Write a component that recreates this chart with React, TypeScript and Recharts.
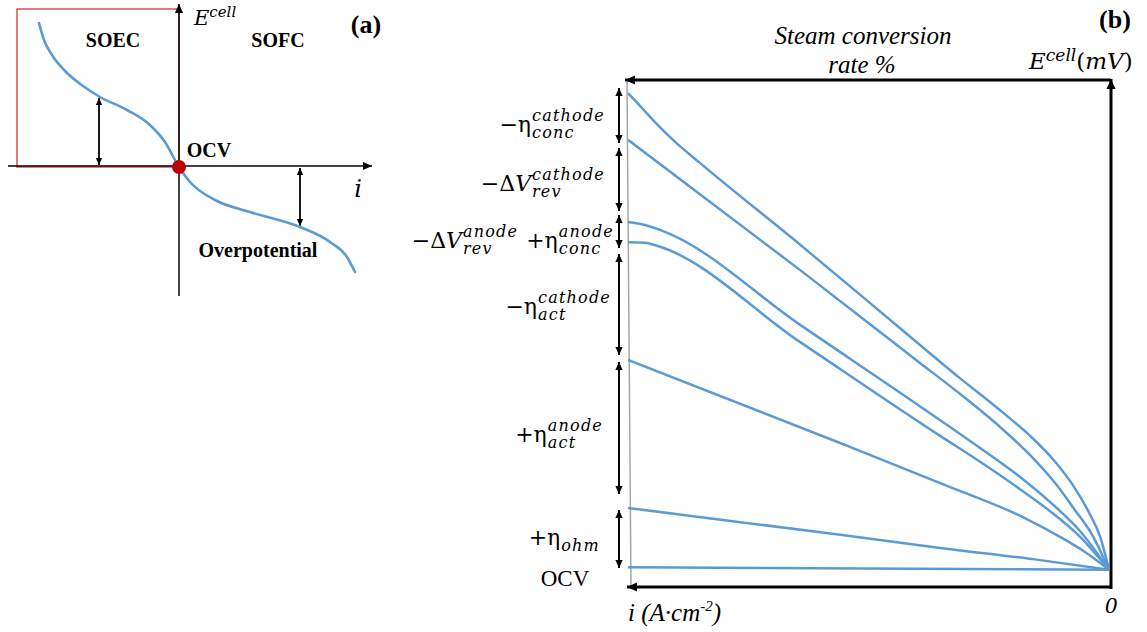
import { LineChart, Line, XAxis, YAxis, ReferenceDot } from 'recharts'
import type { ReactNode } from 'react'

const SERIF = '"Liberation Serif", "Times New Roman", serif'
const MATH = '"DejaVu Serif", serif'
const BLUE = '#5b9bd5'

// panel (a): generic polarisation curve, i vs E (arbitrary units)
const aCurrent = [-14.0, -13.5, -12.7, -11.4, -9.6, -7.9, -5.2, -2.9, -1.4, 0, 1.1, 3.6, 7.1, 12.1, 15.1, 16.8, 17.6]
const aVoltage = [14.4, 12.7, 11.2, 9.6, 8.1, 7.0, 5.7, 4.2, 2.5, 0, -1.5, -3.3, -4.5, -6.0, -7.5, -9.0, -10.5]

// panel (b): x = current density (% of max, 0 at right), y = E cell (% of scale)
const concCathodeX = [100, 97.5, 94.4, 90.2, 85.0, 64.2, 43.5, 31.0, 22.7, 16.4, 11.2, 7.1, 4.0, 1.9, 0]
const concCathodeY = [97.4, 94.9, 91.7, 87.8, 83.6, 67.5, 51.1, 41.2, 34.9, 29.8, 24.7, 19.5, 14.4, 10.1, 3.4]
const revCathodeX = [100, 64.2, 39.3, 31.0, 22.7, 16.4, 11.2, 7.1, 3.5, 0]
const revCathodeY = [88.2, 62.5, 44.2, 38.1, 31.6, 26.0, 20.5, 15.2, 10.3, 3.4]
const revAnodeX = [100, 96.5, 92.7, 64.2, 35.1, 26.8, 18.5, 12.3, 6.0, 0]
const revAnodeY = [72.0, 71.4, 70.2, 51.7, 32.9, 27.4, 21.7, 16.8, 11.0, 3.4]
const concAnodeX = [100, 96.5, 94.0, 64.2, 35.1, 26.8, 18.5, 12.3, 6.0, 0]
const concAnodeY = [68.0, 67.9, 67.3, 48.3, 29.8, 24.7, 19.3, 15.0, 9.9, 3.4]
const actAnodeX = [100, 55.9, 35.1, 17.5, 10.2, 5.0, 0]
const actAnodeY = [44.8, 28.4, 20.5, 13.6, 9.9, 6.9, 3.4]
const ohmX = [100, 55.9, 35.1, 14.3, 0]
const ohmY = [15.6, 10.3, 7.7, 5.3, 3.4]
const ocvX = [100, 0]
const ocvY = [3.9, 3.4]

const zip = (xs: number[], ys: number[]) => xs.map((x, k) => ({ x, y: ys[k] }))

const aData = aCurrent.map((i, k) => ({ i, e: aVoltage[k] }))
const curves = [
  zip(concCathodeX, concCathodeY),
  zip(revCathodeX, revCathodeY),
  zip(revAnodeX, revAnodeY),
  zip(concAnodeX, concAnodeY),
  zip(actAnodeX, actAnodeY),
  zip(ohmX, ohmY),
  zip(ocvX, ocvY),
]

// double arrows beside panel (b): [top, bottom]
const bSpans = [[88, 143], [148, 211], [215, 248], [254, 355], [362, 494], [510, 568]]

interface ArrowProps { x1: number; y1: number; x2: number; y2: number; w?: number; head?: number; both?: boolean; color?: string }
function Arrow({ x1, y1, x2, y2, w = 2, head = 8, both = false, color = '#000' }: ArrowProps) {
  const len = Math.hypot(x2 - x1, y2 - y1)
  const ux = (x2 - x1) / len, uy = (y2 - y1) / len
  const px = -uy, py = ux
  const hw = head * 0.45
  const tri = (tx: number, ty: number, dx: number, dy: number) =>
    `${tx},${ty} ${tx - dx * head + px * hw},${ty - dy * head + py * hw} ${tx - dx * head - px * hw},${ty - dy * head - py * hw}`
  return (
    <g>
      <line x1={x1} y1={y1} x2={x2} y2={y2} stroke={color} strokeWidth={w} />
      <polygon points={tri(x2, y2, ux, uy)} fill={color} />
      {both && <polygon points={tri(x1, y1, -ux, -uy)} fill={color} />}
    </g>
  )
}

interface TxtProps { x: number; y: number; children: ReactNode; size?: number; bold?: boolean; italic?: boolean; font?: string; align?: 'center' | 'left' | 'right' }
function Txt({ x, y, children, size = 20, bold, italic, font = SERIF, align = 'center' }: TxtProps) {
  const tx = align === 'center' ? '-50%' : align === 'right' ? '-100%' : '0'
  return (
    <div style={{
      position: 'absolute', left: x, top: y, transform: `translate(${tx}, -50%)`,
      fontFamily: font, fontSize: size, fontWeight: bold ? 'bold' : 'normal',
      fontStyle: italic ? 'italic' : 'normal', whiteSpace: 'nowrap', lineHeight: 1, color: '#000',
    }}>{children}</div>
  )
}

function Sym({ base, sup, sub }: { base: ReactNode; sup?: string; sub?: string }) {
  return (
    <span style={{ display: 'inline-flex', alignItems: 'center' }}>
      <span style={{ fontSize: 22 }}>{base}</span>
      <span style={{
        display: 'inline-flex', flexDirection: 'column', fontStyle: 'italic', fontSize: 16,
        lineHeight: 1, letterSpacing: 1.2, marginLeft: 1, gap: 1,
      }}>
        <span>{sup || '\u00a0'}</span>
        <span>{sub || '\u00a0'}</span>
      </span>
    </span>
  )
}

function Label({ right, y, children }: { right: number; y: number; children: ReactNode }) {
  return (
    <div style={{
      position: 'absolute', left: right, top: y, transform: 'translate(-100%, -50%)',
      display: 'flex', alignItems: 'center', gap: 8, fontFamily: MATH, whiteSpace: 'nowrap', color: '#000',
    }}>{children}</div>
  )
}

const dV = <span>−Δ<i>V</i></span>

export default function App() {
  return (
    <div style={{ position: 'absolute', left: 0, top: 0, width: 1147, height: 632, background: '#fff', overflow: 'hidden' }}>
      <svg style={{ position: 'absolute', left: 0, top: 0 }} width={1147} height={632}>
        {/* panel (a) frame */}
        <rect x={17} y={9} width={162} height={158} fill="none" stroke="#d9534f" strokeWidth={1.5} />
        <Arrow x1={179} y1={296} x2={179} y2={4} w={1.5} head={9} />
        <Arrow x1={8} y1={166} x2={372} y2={166} w={1.5} head={9} />
        <Arrow x1={99} y1={165} x2={99} y2={98} w={1.8} head={7} both />
        <Arrow x1={300} y1={168} x2={300} y2={226} w={1.8} head={7} both />
        {/* panel (b) frame */}
        <line x1={627} y1={82} x2={631} y2={587} stroke="#a6a6a6" strokeWidth={1.5} />
        <Arrow x1={1111} y1={80} x2={625} y2={80} w={3} head={10} />
        <Arrow x1={1111} y1={589} x2={1111} y2={79} w={3} head={10} />
        <Arrow x1={1111} y1={587} x2={627} y2={587} w={3} head={10} />
        {bSpans.map(([a, b]) => <Arrow key={a} x1={619} y1={a} x2={619} y2={b} w={2} head={8} both />)}
      </svg>

      <div style={{ position: 'absolute', left: -1, top: -3 }}>
        <LineChart width={380} height={300} data={aData} margin={{ top: 0, right: 0, bottom: 0, left: 0 }}>
          <XAxis hide type="number" dataKey="i" domain={[-18, 20]} />
          <YAxis hide type="number" domain={[-13, 17]} />
          <Line type="monotone" dataKey="e" stroke={BLUE} strokeWidth={2.6} strokeLinecap="round"
            dot={false} activeDot={false} isAnimationActive={false} />
          <ReferenceDot x={0} y={0} r={7} fill="#c00000" stroke="none" />
        </LineChart>
      </div>

      <div style={{ position: 'absolute', left: 628, top: 80 }}>
        <LineChart width={481} height={507} margin={{ top: 0, right: 0, bottom: 0, left: 0 }}>
          <XAxis hide type="number" dataKey="x" domain={[0, 100]} reversed allowDataOverflow />
          <YAxis hide type="number" domain={[0, 100]} allowDataOverflow />
          {curves.map((c, k) => (
            <Line key={k} data={c} type="monotone" dataKey="y" stroke={BLUE} strokeWidth={2.5}
              dot={false} activeDot={false} isAnimationActive={false} />
          ))}
        </LineChart>
      </div>

      {/* panel (a) text */}
      <Txt x={194} y={17} align="left" font={MATH} italic size={21}>E<sup style={{ fontSize: 15 }}>cell</sup></Txt>
      <Txt x={366} y={25} bold size={26}>(a)</Txt>
      <Txt x={113} y={40} bold size={20}>SOEC</Txt>
      <Txt x={278} y={40} bold size={20}>SOFC</Txt>
      <Txt x={209} y={150} bold size={20}>OCV</Txt>
      <Txt x={358} y={189} italic size={24} font={MATH}>i</Txt>
      <Txt x={258} y={250} bold size={20}>Overpotential</Txt>

      {/* panel (b) text */}
      <Txt x={863} y={35} italic size={25}>Steam conversion</Txt>
      <Txt x={862} y={64} italic size={25}>rate %</Txt>
      <Txt x={1115} y={20} bold size={26}>(b)</Txt>
      <Txt x={1029} y={60} align="left" font={MATH} size={23}>
        <i>E</i><sup style={{ fontSize: 17, fontStyle: 'italic' }}>cell</sup>(<i>mV</i>)
      </Txt>
      <Txt x={628} y={612} align="left" italic size={25}>i (A·cm<sup style={{ fontSize: 15 }}>-2</sup>)</Txt>
      <Txt x={1111} y={605} italic size={24}>0</Txt>
      <Txt x={565} y={578} size={23}>OCV</Txt>

      <Label right={605} y={124}><Sym base="−η" sup="cathode" sub="conc" /></Label>
      <Label right={605} y={183}><Sym base={dV} sup="cathode" sub="rev" /></Label>
      <Label right={614} y={240}>
        <Sym base={dV} sup="anode" sub="rev" />
        <Sym base="+η" sup="anode" sub="conc" />
      </Label>
      <Label right={611} y={306}><Sym base="−η" sup="cathode" sub="act" /></Label>
      <Label right={603} y={434}><Sym base="+η" sup="anode" sub="act" /></Label>
      <Label right={600} y={537}><Sym base="+η" sub="ohm" /></Label>
    </div>
  )
}
